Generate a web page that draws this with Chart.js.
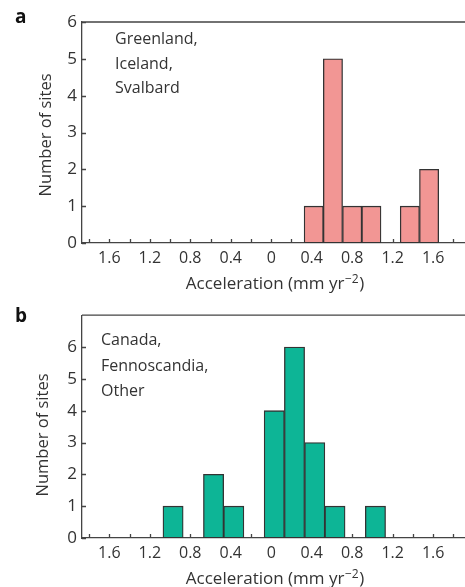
<!DOCTYPE html>
<html>
<head>
<meta charset="utf-8">
<script src="https://cdn.jsdelivr.net/npm/chart.js@4"></script>
<style>
  html, body { margin: 0; padding: 0; background: #fff; overflow: hidden; }
  .panel { position: absolute; left: 0; }
  #pa { top: 0; }
  #pb { top: 300px; }
</style>
</head>
<body>
<div class="panel" id="pa"><canvas id="ca" width="465" height="300"></canvas></div>
<div class="panel" id="pb"><canvas id="cb" width="465" height="287"></canvas></div>
<script>
// ---- data ----
const topBinCenters = [0.42, 0.61, 0.80, 0.99, 1.18, 1.37, 1.56];
const topCounts     = [1, 5, 1, 1, 0, 1, 2];
const botBinCenters = [-0.97, -0.77, -0.57, -0.37, -0.17, 0.03, 0.23, 0.43, 0.63, 0.83, 1.03];
const botCounts     = [1, 0, 2, 1, 0, 4, 6, 3, 1, 0, 1];
const xTickValues   = [-1.6, -1.2, -0.8, -0.4, 0, 0.4, 0.8, 1.2, 1.6];
const xTickLabels   = ['1.6', '1.2', '0.8', '0.4', '0', '0.4', '0.8', '1.2', '1.6'];
const xMinorTicks   = [-1.8, -1.6, -1.4, -1.2, -1.0, -0.8, -0.6, -0.4, -0.2, 0, 0.2, 0.4, 0.6, 0.8, 1.0, 1.2, 1.4, 1.6, 1.8];
const yTickValues   = [0, 1, 2, 3, 4, 5, 6];
const topNote       = ['Greenland,', 'Iceland,', 'Svalbard'];
const botNote       = ['Canada,', 'Fennoscandia,', 'Other'];

const FONT = "'Open Sans', 'Noto Sans', sans-serif";
const AXIS = '#444';
const TXT = '#333';

Chart.defaults.font.family = FONT;
Chart.defaults.color = TXT;

const decor = {
  id: 'decor',
  beforeDatasetsDraw(chart, args, o) {
    const { ctx, chartArea: a, scales: { x, y } } = chart;
    ctx.save();
    ctx.strokeStyle = AXIS;
    ctx.lineWidth = 1.3;
    ctx.beginPath();
    ctx.moveTo(a.left, a.top); ctx.lineTo(a.right, a.top);
    xMinorTicks.forEach(v => {
      const px = Math.round(x.getPixelForValue(v)) + 0.5;
      ctx.moveTo(px, a.bottom); ctx.lineTo(px, a.bottom - 4);
    });
    yTickValues.forEach(v => {
      const py = Math.round(y.getPixelForValue(v)) + 0.5;
      ctx.moveTo(a.left, py); ctx.lineTo(a.left + 4, py);
    });
    ctx.stroke();
    ctx.restore();
  },
  afterDraw(chart, args, o) {
    const { ctx, chartArea: a } = chart;
    ctx.save();
    // panel letter
    ctx.font = "bold 19px " + FONT;
    ctx.fillStyle = '#111';
    ctx.textAlign = 'left';
    ctx.textBaseline = 'alphabetic';
    ctx.fillText(o.letter, 15, o.letterY);
    // note
    ctx.fillStyle = TXT;
    ctx.font = "16px " + FONT;
    o.note.forEach((t, i) => ctx.fillText(t, o.noteX, a.top + o.noteDY + i * o.noteGap));
    // y title
    ctx.save();
    ctx.translate(o.yTitleX, o.yTitleY);
    ctx.rotate(-Math.PI / 2);
    ctx.textAlign = 'center';
    ctx.textBaseline = 'middle';
    ctx.font = "16.5px " + FONT;
    ctx.fillText('Number of sites', 0, 0);
    ctx.restore();
    // x title with superscript
    const main = 'Acceleration (mm yr';
    const sup = '\u22122';
    const end = ')';
    ctx.font = "17px " + FONT;
    const wMain = ctx.measureText(main).width;
    const wEnd = ctx.measureText(end).width;
    ctx.font = "12px " + FONT;
    const wSup = ctx.measureText(sup).width;
    const total = wMain + wSup + wEnd + 1;
    let sx = o.xTitleX - total / 2;
    const by = a.bottom + 46;
    ctx.textAlign = 'left';
    ctx.textBaseline = 'alphabetic';
    ctx.font = "17px " + FONT;
    ctx.fillText(main, sx, by);
    sx += wMain + 0.5;
    ctx.font = "12px " + FONT;
    ctx.fillText(sup, sx, by - 6.5);
    sx += wSup + 0.5;
    ctx.font = "17px " + FONT;
    ctx.fillText(end, sx, by);
    ctx.restore();
  }
};

function makeChart(id, centers, counts, color, yMax, padTop, xH, opts) {
  return new Chart(document.getElementById(id), {
    type: 'bar',
    data: {
      datasets: [{
        data: centers.map((c, i) => ({ x: c, y: counts[i] })),
        backgroundColor: color,
        borderColor: '#333',
        borderWidth: 1.3,
        borderSkipped: false,
        barPercentage: 1,
        categoryPercentage: 1
      }]
    },
    options: {
      responsive: false,
      animation: false,
      devicePixelRatio: 1,
      layout: { padding: { left: 0, right: 0, top: padTop, bottom: 0 } },
      plugins: { legend: { display: false }, tooltip: { enabled: false }, decor: opts },
      scales: {
        x: {
          type: 'linear',
          offset: false,
          min: -1.87,
          max: 1.915,
          grid: { display: false, drawTicks: false },
          border: { display: true, color: AXIS, width: 1.3 },
          afterBuildTicks: s => { s.ticks = xTickValues.map(v => ({ value: v })); },
          afterFit: s => { s.height = xH; },
          ticks: {
            autoSkip: false,
            maxRotation: 0,
            padding: 6,
            font: { size: 16 },
            color: TXT,
            callback: v => {
              const i = xTickValues.findIndex(t => Math.abs(t - v) < 1e-6);
              return i >= 0 ? xTickLabels[i] : '';
            }
          }
        },
        y: {
          min: 0,
          max: yMax,
          grid: { display: false, drawTicks: false },
          border: { display: true, color: AXIS, width: 1.3 },
          afterBuildTicks: s => { s.ticks = yTickValues.map(v => ({ value: v })); },
          afterFit: s => { s.width = 82; },
          ticks: { padding: 5, font: { size: 17 }, color: TXT }
        }
      }
    },
    plugins: [decor]
  });
}

makeChart('ca', topBinCenters, topCounts, '#f29694', 6, 22, 57,
  { letter: 'a', letterY: 23, note: topNote, noteX: 115, noteDY: 22, noteGap: 24.5,
    yTitleX: 46.5, yTitleY: 135, xTitleX: 275 });
makeChart('cb', botBinCenters, botCounts, '#0db596', 7, 12, 49,
  { letter: 'b', letterY: 22, note: botNote, noteX: 101, noteDY: 30, noteGap: 25.5,
    yTitleX: 43, yTitleY: 135, xTitleX: 275 });
</script>
</body>
</html>
